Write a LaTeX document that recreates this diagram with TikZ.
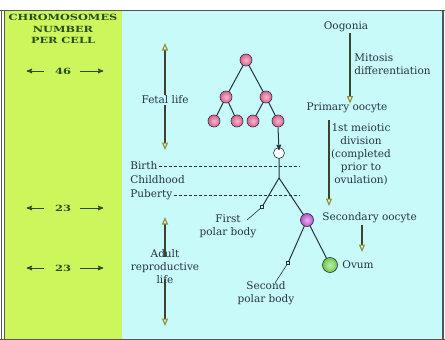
\documentclass[tikz,border=0pt]{standalone}
\usepackage{fontspec}
\setmainfont{DejaVu Serif}
\usetikzlibrary{%
  arrows,%
  arrows.meta,% coloured open heads
  shapes,%
  positioning% wg. " of "
}

\definecolor{cellgreen}{RGB}{204,246,92}
\definecolor{lifecyan}{RGB}{200,250,250}
\definecolor{inkgrey}{RGB}{38,52,66}
\definecolor{inkgreen}{RGB}{40,78,30}
\definecolor{framegrey}{RGB}{85,85,85}
\definecolor{shaft}{RGB}{60,66,45}
\definecolor{tipolive}{RGB}{150,140,50}
\definecolor{oopink}{RGB}{225,95,140}
\definecolor{oopurple}{RGB}{185,80,205}
\definecolor{oogreen}{RGB}{105,205,70}

\begin{document}
\begin{tikzpicture}[
  x=1pt,y=-1pt,
  font=\fontsize{10.5}{13}\selectfont,
  >=stealth',
  line width=0.8pt,
  lbl/.style={text=inkgrey, inner sep=1pt},
  chrom/.style={text=inkgreen, inner sep=1pt, font=\fontsize{8.5}{11.5}\selectfont\bfseries},
  cell/.style={circle, draw=inkgrey, line width=0.6pt, minimum size=12pt, inner sep=0pt},
  pinkcell/.style={cell, shading=radial, inner color=oopink!45!white, outer color=oopink},
  polar/.style={rectangle, draw=inkgrey, fill=lifecyan, line width=0.6pt, minimum size=3.5pt, inner sep=0pt},
  life/.style={shaft, line width=1.1pt, -{Triangle[open, length=7.5pt, width=6pt, color=tipolive, fill=lifecyan]}},
  branch/.style={inkgrey, line width=1pt},
]

\useasboundingbox (0,0) rectangle (445,340);

% panels and frame
\fill[white] (0,0) rectangle (445,340);
\fill[cellgreen] (5,10) rectangle (122,339);
\fill[lifecyan] (122,10) rectangle (442,339);
\draw[framegrey, line width=1pt] (0,10) -- (445,10);
\draw[framegrey, line width=1pt] (1,10) -- (1,340);
\draw[framegrey, line width=1pt] (4,10) -- (4,340);
\draw[framegrey, line width=1.5pt] (443,10) -- (443,340);
\draw[framegrey, line width=1pt] (0,339) -- (445,339);

% chromosome numbers
\node[chrom, align=center] (head) at (63,29)
  {\scalebox{1.33}[1]{CHROMOSOMES}\\\scalebox{1.33}[1]{NUMBER}\\\scalebox{1.33}[1]{PER CELL}};
\foreach \n/\y in {46/71,23/208,23/268} {
  \node[chrom] (n\y) at (63,\y) {\scalebox{1.35}[1]{\n}};
  \draw[->, inkgreen, line width=1pt] (n\y.west) ++(-10,0) -- ++(-17,0);
  \draw[->, inkgreen, line width=1pt] (n\y.east) ++(8,0) -- ++(23,0);
}

% life stages
\node[lbl] (fetal) at (165,100) {Fetal life};
\coordinate (fetaltop) at (165,43);
\coordinate (fetalbot) at (165,150);
\draw[life] (fetal.north) -- (fetaltop);
\draw[life] (fetal.south) -- (fetalbot);

\node[lbl, anchor=west] (birth) at (129,166) {Birth};
\node[lbl, anchor=west] (child) at (129,180) {Childhood};
\node[lbl, anchor=west] (puberty) at (129,195) {Puberty};
\coordinate (dashend) at (300,0);
\draw[inkgrey, dash pattern=on 3pt off 2pt, line width=0.8pt] (birth.east) -- (birth.east -| dashend);
\draw[inkgrey, dash pattern=on 3pt off 2pt, line width=0.8pt] (puberty.east) -- (puberty.east -| dashend);

\node[lbl, align=center] (adult) at (165,267) {Adult\\reproductive\\life};
\coordinate (adulttop) at (165,217);
\coordinate (adultbot) at (165,326);
\draw[life] ([yshift=-8pt]adult.north) -- (adulttop);
\draw[life] ([yshift=6pt]adult.south) -- (adultbot);

% oogonia dividing by mitosis
\coordinate (o1) at (246,60);
\coordinate (o2a) at (226,97);
\coordinate (o2b) at (266,97);
\foreach \i/\x in {a/214,b/237,c/253,d/278} {
  \coordinate (o3\i) at (\x,121);
}
\draw[branch] (o1) -- (o2a) (o1) -- (o2b)
  (o2a) -- (o3a) (o2a) -- (o3b) (o2b) -- (o3c) (o2b) -- (o3d);
\foreach \c in {o1,o2a,o2b,o3a,o3b,o3c,o3d} {
  \node[pinkcell] (cell-\c) at (\c) {};
}

% oocyte line
\coordinate (prim) at (279,153);
\coordinate (fork) at (279,178);
\coordinate (pb1) at (262,207);
\coordinate (pb1end) at (247,220);
\coordinate (sec) at (307,220);
\coordinate (ovum) at (330,265);
\coordinate (pb2) at (288,263);
\coordinate (pb2end) at (275,283);
\draw[branch] (prim) -- (fork) -- (pb1);
\draw[inkgrey, line width=0.6pt] (pb1) -- (pb1end);
\draw[branch] (fork) -- (sec) -- (ovum);
\draw[branch] (sec) -- (pb2);
\draw[inkgrey, line width=0.6pt] (pb2) -- (pb2end);
\node[cell, fill=white, minimum size=11pt] (primcell) at (prim) {};
\draw[->, branch] (cell-o3d.south) -- ([yshift=-3pt]primcell.north);
\node[polar] (pbone) at (pb1) {};
\node[polar] (pbtwo) at (pb2) {};
\node[cell, shading=radial, inner color=oopurple!40!white, outer color=oopurple, minimum size=13pt] (secondcell) at (sec) {};
\node[cell, shading=radial, inner color=oogreen!40!white, outer color=oogreen, minimum size=15pt] (ovumcell) at (ovum) {};

\node[lbl, align=center] (pbtext1) at (228,226) {First\\polar body};
\node[lbl, align=center] (pbtext2) at (266,293) {Second\\polar body};

% stages on the right
\node[lbl] (oogonia) at (346,27) {Oogonia};
\node[lbl] (primary) at (347,108) {Primary oocyte};
\draw[life] ([xshift=4pt]oogonia.south) -- ([xshift=3pt,yshift=-2pt]primary.north);
\node[lbl, align=left, anchor=west] (mitosis) at (353,64) {Mitosis\\differentiation};

\node[lbl, anchor=west] (secondary) at (321,218) {Secondary oocyte};
\draw[life] (329,120) -- (329,206);
\node[lbl, align=center] (meiosis) at (361,154) {1st meiotic\\division\\(completed\\prior to\\ovulation)};
\coordinate (ovarrow) at (362,252);
\draw[life] (secondary.south -| ovarrow) -- (ovarrow);
\node[lbl, anchor=west] (ovumtext) at (341,265) {Ovum};
\end{tikzpicture}
\end{document}
